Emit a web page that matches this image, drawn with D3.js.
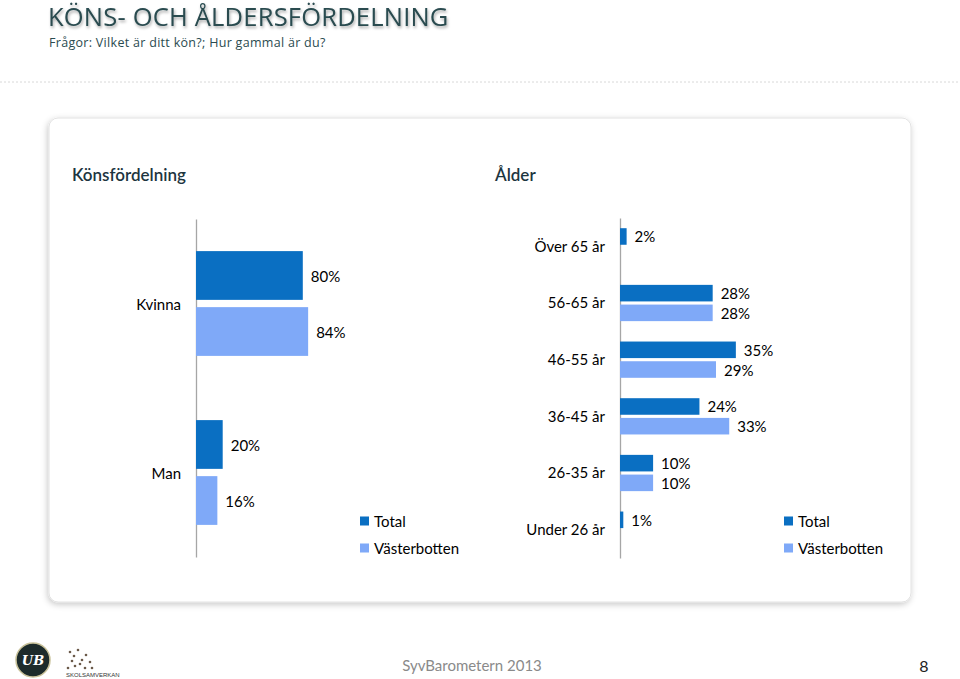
<!DOCTYPE html>
<html><head><meta charset="utf-8">
<script src="https://cdn.jsdelivr.net/npm/d3@7"></script>
<style>
html,body{margin:0;padding:0;background:#fff;}
svg{display:block;}
</style></head>
<body>
<svg id="c" width="960" height="679"></svg>
<script>
const genderCats = ["Kvinna", "Man"];
const genderTotal = [0.80, 0.20];
const genderVast = [0.84, 0.16];
const ageCats = ["Över 65 år", "56-65 år", "46-55 år", "36-45 år", "26-35 år", "Under 26 år"];
const ageTotal = [0.02, 0.28, 0.35, 0.24, 0.10, 0.01];
const ageVast = [null, 0.28, 0.29, 0.33, 0.10, null];
const seriesNames = ["Total", "Västerbotten"];
const seriesColors = ["#0a6fc2", "#7fa9f8"];

const svg = d3.select("#c");
const defs = svg.append("defs");
const f = defs.append("filter").attr("id","sh").attr("x","-5%").attr("y","-5%").attr("width","110%").attr("height","115%");
f.append("feDropShadow").attr("dx",-1).attr("dy",2).attr("stdDeviation",3).attr("flood-color","#000").attr("flood-opacity",0.22);
const tf = defs.append("filter").attr("id","tsh").attr("x","-5%").attr("y","-30%").attr("width","110%").attr("height","160%");
tf.append("feDropShadow").attr("dx",1).attr("dy",2).attr("stdDeviation",1.5).attr("flood-color","#000").attr("flood-opacity",0.35);

// header
svg.append("text").attr("x",48).attr("y",26).text("KÖNS- OCH ÅLDERSFÖRDELNING")
  .attr("font-family","Open Sans").attr("font-size",25.5).attr("letter-spacing",0.2).attr("fill","#2a4b50").attr("filter","url(#tsh)");
svg.append("text").attr("x",49).attr("y",47).text("Frågor: Vilket är ditt kön?; Hur gammal är du?")
  .attr("font-family","Open Sans").attr("font-size",12.5).attr("fill","#2a4b50").attr("letter-spacing",0.3);
svg.append("line").attr("x1",0).attr("x2",960).attr("y1",82).attr("y2",82)
  .attr("stroke","#d8d8d8").attr("stroke-width",1).attr("stroke-dasharray","2,2");

// card
svg.append("rect").attr("x",49).attr("y",118).attr("width",862).attr("height",484).attr("rx",9)
  .attr("fill","#fff").attr("stroke","#e2e2e2").attr("stroke-width",1).attr("filter","url(#sh)");

const font = "Lato";
svg.append("text").attr("x",72).attr("y",181).text("Könsfördelning")
  .attr("font-family",font).attr("font-size",17).attr("font-weight",600).attr("fill","#1d3540");
svg.append("text").attr("x",495).attr("y",181).text("Ålder")
  .attr("font-family",font).attr("font-size",17).attr("font-weight",600).attr("fill","#1d3540");

function pct(v){ return Math.round(v*100) + "%"; }

function drawChart(opt){
  const g = svg.append("g");
  const x = d3.scaleLinear().domain([0,1]).range([opt.x0, opt.x0 + opt.fullW]);
  const y = d3.scaleBand().domain(opt.cats).range([opt.y0, opt.y1]).paddingInner(opt.padIn).paddingOuter(opt.padOut);
  const inner = d3.scaleBand().domain([0,1]).range([0, y.bandwidth()]).paddingInner(opt.innerPad);
  const ax = g.append("g").attr("transform",`translate(${opt.x0},0)`)
    .call(d3.axisLeft(d3.scaleBand().domain(opt.cats).range([opt.y0, opt.y1])).tickSize(0).tickPadding(opt.tickPad));
  ax.select(".domain").attr("stroke","#a6a6a6").attr("stroke-width",1.3);
  ax.selectAll("text").attr("font-family",font).attr("font-size",15).attr("fill","#000");
  ax.selectAll(".tick").each(function(d){ d3.select(this).attr("transform",`translate(0,${y(d)+y.bandwidth()/2 + opt.catShift})`); });
  const series = [opt.total, opt.vast];
  series.forEach((vals, s) => {
    opt.cats.forEach((c, i) => {
      const v = vals[i];
      if (v == null) return;
      const by = y(c) + inner(s);
      g.append("rect").attr("x", x(0)).attr("y", by).attr("width", x(v) - x(0)).attr("height", inner.bandwidth())
        .attr("fill", seriesColors[s]);
      g.append("text").attr("x", x(v) + opt.labelPad).attr("y", by + inner.bandwidth()/2 + opt.labelDy)
        .attr("dominant-baseline","central").text(pct(v))
        .attr("font-family",font).attr("font-size",15).attr("fill","#000");
    });
  });
  seriesNames.forEach((n, i) => {
    const ly = opt.legY + i*27;
    g.append("rect").attr("x", opt.legX).attr("y", ly - 4.5).attr("width", 9).attr("height", 9).attr("fill", seriesColors[i]);
    g.append("text").attr("x", opt.legX + 14).attr("y", ly).attr("dominant-baseline","central").text(n)
      .attr("font-family",font).attr("font-size",15).attr("fill","#000");
  });
}

drawChart({cats: genderCats, total: genderTotal, vast: genderVast,
  x0: 196, fullW: 133.5, y0: 219, y1: 557, padIn: 0.38, padOut: 0.19, innerPad: 0.13,
  tickPad: 15, catShift: 1.5, labelPad: 8, labelDy: 0.5, legX: 360, legY: 521});

drawChart({cats: ageCats, total: ageTotal, vast: ageVast,
  x0: 620, fullW: 331, y0: 218, y1: 558, padIn: 0.36, padOut: 0.18, innerPad: 0.16,
  tickPad: 15, catShift: 0.5, labelPad: 8, labelDy: 0, legX: 784, legY: 521});

// footer
const lg = svg.append("g");
lg.append("circle").attr("cx",33).attr("cy",660).attr("r",17).attr("fill","#1d2b2b").attr("stroke","#c9c29a").attr("stroke-width",1.5);
lg.append("text").attr("x",33).attr("y",665).attr("text-anchor","middle").text("UB")
  .attr("font-family","DejaVu Serif").attr("font-style","italic").attr("font-weight","bold").attr("font-size",13).attr("fill","#fff");
const dots = [[70,652],[74,656],[78,650],[82,660],[86,655],[80,664],[90,662],[75,666],[68,668],[85,668],[92,668],[72,661]];
dots.forEach(d => lg.append("circle").attr("cx",d[0]).attr("cy",d[1]).attr("r",1.3).attr("fill","#6b5a4a"));
lg.append("text").attr("x",66).attr("y",677).text("SKOLSAMVERKAN")
  .attr("font-family","Liberation Sans").attr("font-size",6).attr("fill","#333");
svg.append("text").attr("x",472).attr("y",671).attr("text-anchor","middle").text("SyvBarometern 2013")
  .attr("font-family",font).attr("font-size",15).attr("fill","#8a8a8a");
svg.append("text").attr("x",924).attr("y",672).attr("text-anchor","middle").text("8")
  .attr("font-family",font).attr("font-size",16).attr("fill","#222");
</script>
</body></html>
